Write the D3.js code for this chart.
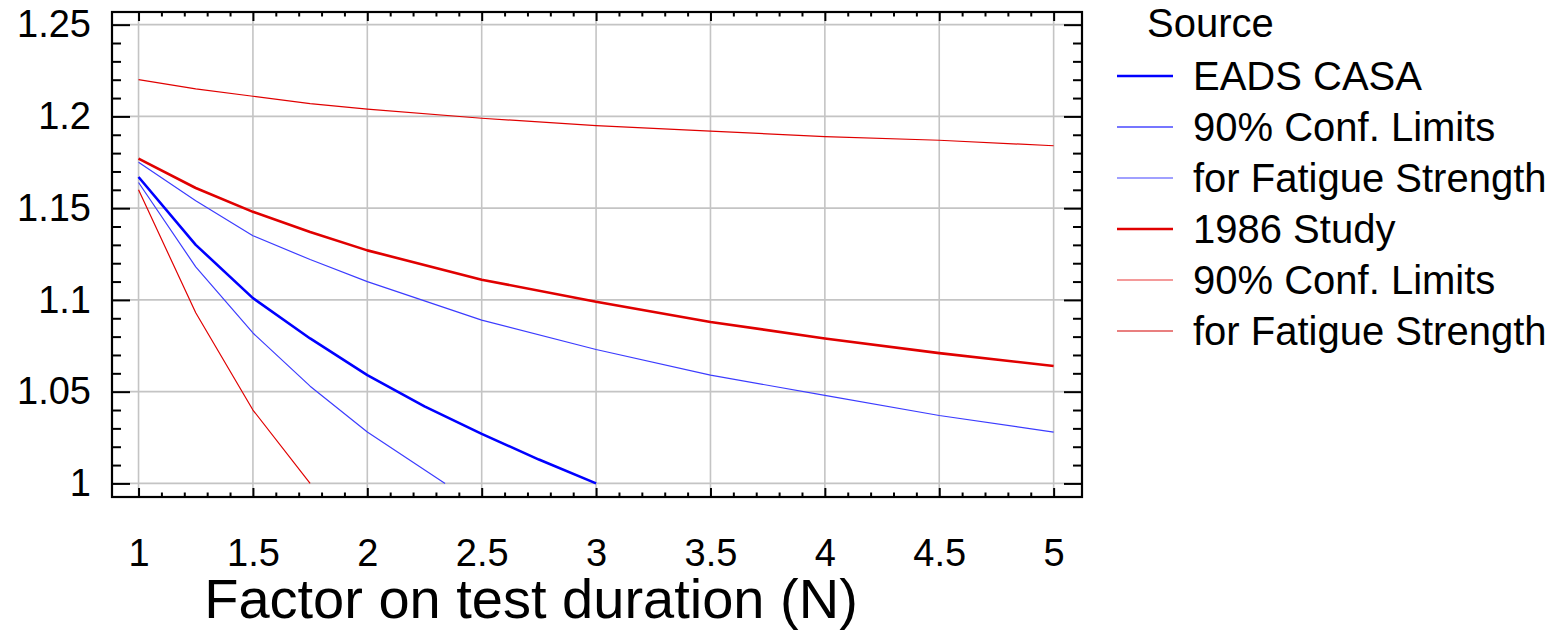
<!DOCTYPE html>
<html>
<head>
<meta charset="utf-8">
<script src="https://cdn.jsdelivr.net/npm/d3@7/dist/d3.min.js"></script>
<style>
  html, body { margin: 0; padding: 0; background: #fff; }
  svg { display: block; font-family: "Liberation Sans", Arial, sans-serif; }
</style>
</head>
<body>
<svg id="chart" width="1560" height="631"></svg>
<script>
// Factor on test duration (N)
const xTicks = [1, 1.5, 2, 2.5, 3, 3.5, 4, 4.5, 5];
const yTicks = [1, 1.05, 1.1, 1.15, 1.2, 1.25];

// EADS CASA curve and its 90% confidence limits
const eadsX = [1, 1.25, 1.5, 1.75, 2, 2.25, 2.5, 2.75, 3];
const eadsY = [1.167, 1.130, 1.101, 1.079, 1.059, 1.042, 1.027, 1.013, 1.000];
const eadsUpperX = [1, 1.25, 1.5, 1.75, 2, 2.5, 3, 3.5, 4, 4.5, 5];
const eadsUpperY = [1.175, 1.154, 1.135, 1.122, 1.110, 1.089, 1.073, 1.059, 1.048, 1.037, 1.028];
const eadsLowerX = [1, 1.25, 1.5, 1.75, 2, 2.34];
const eadsLowerY = [1.164, 1.118, 1.082, 1.053, 1.028, 1.000];

// 1986 Study curve and its 90% confidence limits
const studyX = [1, 1.25, 1.5, 1.75, 2, 2.5, 3, 3.5, 4, 4.5, 5];
const studyY = [1.177, 1.161, 1.148, 1.137, 1.127, 1.111, 1.099, 1.088, 1.079, 1.071, 1.064];
const studyUpperX = [1, 1.25, 1.5, 1.75, 2, 2.5, 3, 3.5, 4, 4.5, 5];
const studyUpperY = [1.220, 1.215, 1.211, 1.207, 1.204, 1.199, 1.195, 1.192, 1.189, 1.187, 1.184];
const studyLowerX = [1, 1.25, 1.5, 1.75];
const studyLowerY = [1.160, 1.093, 1.040, 1.000];

const legendTitle = "Source";
const legendLabels = ["EADS CASA", "90% Conf. Limits", "for Fatigue Strength",
                      "1986 Study", "90% Conf. Limits", "for Fatigue Strength"];

const BLUE = "#0000ff", BLUE_THIN = "#3c3cff";
const RED = "#e00000", RED_THIN = "#e00000";

const svg = d3.select("#chart");
const plot = { left: 112, right: 1082, top: 12, bottom: 497 };

const x = d3.scaleLinear().domain([0.884, 5.124]).range([plot.left, plot.right]);
const y = d3.scaleLinear().domain([0.9926, 1.2569]).range([plot.bottom, plot.top]);

const fmt = d => String(+d.toFixed(2));
const xMinor = d3.range(10, 51).map(i => i / 10).filter(v => !xTicks.some(t => Math.abs(t - v) < 1e-9));
const yMinor = d3.range(100, 126).map(i => i / 100).filter(v => !yTicks.some(t => Math.abs(t - v) < 1e-9));

// grid
const grid = svg.append("g").attr("stroke", "#c4c4c4").attr("stroke-width", 1.6);
grid.selectAll("line.gx").data(xTicks).join("line")
  .attr("x1", d => x(d)).attr("x2", d => x(d))
  .attr("y1", plot.top).attr("y2", plot.bottom);
grid.selectAll("line.gy").data(yTicks).join("line")
  .attr("y1", d => y(d)).attr("y2", d => y(d))
  .attr("x1", plot.left).attr("x2", plot.right);

// series
const line = d3.line().x(d => x(d[0])).y(d => y(d[1]));
const zip = (xs, ys) => xs.map((v, i) => [v, ys[i]]);
const series = [
  { pts: zip(studyUpperX, studyUpperY), color: RED_THIN, w: 1.2 },
  { pts: zip(studyLowerX, studyLowerY), color: RED_THIN, w: 1.2 },
  { pts: zip(eadsUpperX, eadsUpperY), color: BLUE_THIN, w: 1.2 },
  { pts: zip(eadsLowerX, eadsLowerY), color: BLUE_THIN, w: 1.2 },
  { pts: zip(studyX, studyY), color: RED, w: 2.6 },
  { pts: zip(eadsX, eadsY), color: BLUE, w: 2.6 }
];
svg.append("g").selectAll("path").data(series).join("path")
  .attr("fill", "none")
  .attr("stroke", d => d.color)
  .attr("stroke-width", d => d.w)
  .attr("stroke-linejoin", "round")
  .attr("d", d => line(d.pts));

// axes with inward ticks on all four sides
function styleAxis(g) {
  g.select(".domain").remove();
  g.selectAll(".tick line").attr("stroke", "#000").attr("stroke-width", 2);
  g.selectAll("text").attr("fill", "#000").attr("font-size", 38)
    .attr("font-family", "'Liberation Sans', Arial, sans-serif");
}
svg.append("g").attr("transform", `translate(0,${plot.bottom})`)
  .call(d3.axisBottom(x).tickValues(xTicks).tickFormat(fmt).tickSize(-9).tickPadding(42))
  .call(styleAxis);
svg.append("g").attr("transform", `translate(0,${plot.bottom})`)
  .call(d3.axisBottom(x).tickValues(xMinor).tickFormat("").tickSize(-4.5))
  .call(styleAxis);
svg.append("g").attr("transform", `translate(0,${plot.top})`)
  .call(d3.axisTop(x).tickValues(xTicks).tickFormat("").tickSize(-9))
  .call(styleAxis);
svg.append("g").attr("transform", `translate(0,${plot.top})`)
  .call(d3.axisTop(x).tickValues(xMinor).tickFormat("").tickSize(-4.5))
  .call(styleAxis);
svg.append("g").attr("transform", `translate(${plot.left},0)`)
  .call(d3.axisLeft(y).tickValues(yTicks).tickFormat(fmt).tickSize(-18).tickPadding(21))
  .call(styleAxis);
svg.append("g").attr("transform", `translate(${plot.left},0)`)
  .call(d3.axisLeft(y).tickValues(yMinor).tickFormat("").tickSize(-9))
  .call(styleAxis);
svg.append("g").attr("transform", `translate(${plot.right},0)`)
  .call(d3.axisRight(y).tickValues(yTicks).tickFormat("").tickSize(-18))
  .call(styleAxis);
svg.append("g").attr("transform", `translate(${plot.right},0)`)
  .call(d3.axisRight(y).tickValues(yMinor).tickFormat("").tickSize(-9))
  .call(styleAxis);

// frame
svg.append("rect")
  .attr("x", plot.left).attr("y", plot.top)
  .attr("width", plot.right - plot.left).attr("height", plot.bottom - plot.top)
  .attr("fill", "none").attr("stroke", "#000").attr("stroke-width", 2.2);

// x axis title
svg.append("text")
  .attr("x", 531).attr("y", 618)
  .attr("text-anchor", "middle")
  .attr("font-size", 56)
  .attr("fill", "#000")
  .text("Factor on test duration (N)");

// legend
const legendStyles = [
  { color: BLUE, w: 2.6 },
  { color: "#4848ff", w: 1.3 },
  { color: "#8080ff", w: 1.6 },
  { color: RED, w: 2.6 },
  { color: "#f07878", w: 1.6 },
  { color: "#d40000", w: 1.2 }
];
const legend = svg.append("g");
legend.append("text")
  .attr("x", 1147).attr("y", 37)
  .attr("font-size", 40).attr("fill", "#000")
  .text(legendTitle);
const rows = legend.selectAll("g.row").data(legendLabels).join("g")
  .attr("transform", (d, i) => `translate(0,${76 + i * 51})`);
rows.append("line")
  .attr("x1", 1117).attr("x2", 1173).attr("y1", 0).attr("y2", 0)
  .attr("stroke", (d, i) => legendStyles[i].color)
  .attr("stroke-width", (d, i) => legendStyles[i].w);
rows.append("text")
  .attr("x", 1193).attr("y", 14)
  .attr("font-size", 40).attr("fill", "#000")
  .text(d => d);
</script>
</body>
</html>
